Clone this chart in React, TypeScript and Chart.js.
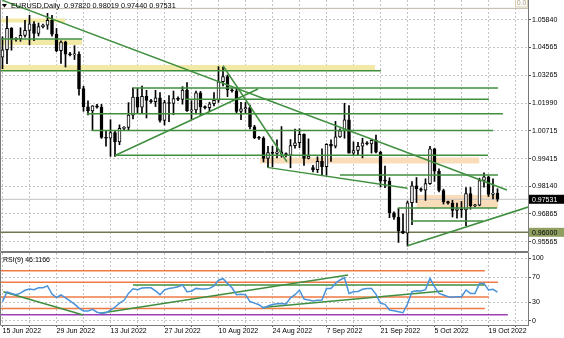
import React, { useEffect, useRef } from 'react';
import { Chart, registerables } from 'chart.js';
Chart.register(...registerables);

const FONT = "'Liberation Sans', Arial, sans-serif";

// ---- data ----
const dateLabels = ['15 Jun 2022', '29 Jun 2022', '13 Jul 2022', '27 Jul 2022', '10 Aug 2022', '24 Aug 2022', '7 Sep 2022', '21 Sep 2022', '5 Oct 2022', '19 Oct 2022'];
const priceTicks = [1.0584, 1.04565, 1.03265, 1.0199, 1.00715, 0.99415, 0.9814, 0.96865, 0.95565];
const rsiTicks = [100, 70, 30, 0];

const opens = [1.0412, 1.0446, 1.0545, 1.0494, 1.0498, 1.0513, 1.0536, 1.0566, 1.0522, 1.0553, 1.0560, 1.0583, 1.0518, 1.0442, 1.0482, 1.0426, 1.0422, 1.0425, 1.0266, 1.0182, 1.0163, 1.0186, 1.0180, 1.0040, 1.0036, 1.0062, 1.0019, 1.0082, 1.0086, 1.0143, 1.0227, 1.0180, 1.0230, 1.0211, 1.0205, 1.0223, 1.0119, 1.0201, 1.0197, 1.0220, 1.0216, 1.0259, 1.0163, 1.0167, 1.0247, 1.0181, 1.0178, 1.0196, 1.0212, 1.0298, 1.0322, 1.0260, 1.0256, 1.0160, 1.0172, 1.0178, 1.0089, 1.0039, 1.0036, 0.9942, 0.9969, 0.9966, 0.9973, 0.9965, 0.9958, 1.0002, 1.0015, 1.0054, 0.9943, 0.9900, 0.9890, 0.9929, 0.9904, 1.0008, 0.9999, 1.0042, 1.0070, 1.0121, 0.9967, 0.9979, 0.9999, 1.0015, 1.0010, 1.0026, 0.9971, 0.9837, 0.9837, 0.9690, 0.9670, 0.9606, 0.9596, 0.9737, 0.9815, 0.9802, 0.9795, 0.9826, 0.9987, 0.9883, 0.9794, 0.9742, 0.9735, 0.9701, 0.9708, 0.9704, 0.9780, 0.9723, 0.9726, 0.9840, 0.9857, 0.9776, 0.9782];
const highs = [1.0506, 1.0601, 1.0549, 1.0503, 1.0548, 1.0583, 1.0606, 1.0577, 1.0570, 1.0565, 1.0615, 1.0606, 1.0545, 1.0487, 1.0486, 1.0434, 1.0465, 1.0436, 1.0277, 1.0209, 1.0187, 1.0193, 1.0193, 1.0072, 1.0122, 1.0068, 1.0098, 1.0090, 1.0201, 1.0270, 1.0268, 1.0278, 1.0258, 1.0216, 1.0258, 1.0248, 1.0212, 1.0234, 1.0255, 1.0228, 1.0275, 1.0294, 1.0210, 1.0254, 1.0253, 1.0186, 1.0203, 1.0248, 1.0368, 1.0365, 1.0329, 1.0266, 1.0268, 1.0202, 1.0202, 1.0190, 1.0096, 1.0045, 1.0043, 0.9998, 0.9999, 1.0029, 1.0090, 0.9968, 1.0030, 1.0079, 1.0080, 1.0056, 1.0033, 0.9910, 0.9950, 0.9987, 1.0011, 1.0029, 1.0114, 1.0080, 1.0198, 1.0187, 1.0019, 1.0017, 1.0036, 1.0020, 1.0030, 1.0051, 0.9976, 0.9907, 0.9853, 0.9695, 0.9712, 0.9686, 0.9745, 0.9835, 0.9854, 0.9806, 0.9848, 0.9999, 0.9990, 0.9894, 0.9800, 0.9745, 0.9748, 0.9736, 0.9743, 0.9807, 0.9808, 0.9730, 0.9851, 0.9876, 0.9861, 0.9848, 0.98019];
const lows = [1.0358, 1.0382, 1.0444, 1.0486, 1.0485, 1.0505, 1.0469, 1.0488, 1.0510, 1.0547, 1.0541, 1.0509, 1.0437, 1.0383, 1.0366, 1.0418, 1.0401, 1.0236, 1.0161, 1.0144, 1.0072, 1.0175, 1.0035, 0.9999, 0.9952, 0.9952, 1.0006, 1.0075, 1.0073, 1.0125, 1.0154, 1.0153, 1.0130, 1.0199, 1.0183, 1.0110, 1.0097, 1.0113, 1.0145, 1.0210, 1.0194, 1.0160, 1.0123, 1.0149, 1.0141, 1.0172, 1.0159, 1.0186, 1.0202, 1.0279, 1.0229, 1.0250, 1.0150, 1.0122, 1.0150, 1.0079, 1.0034, 1.0030, 0.9926, 0.9901, 0.9903, 0.9945, 0.9948, 0.9950, 0.9899, 0.9990, 0.9992, 0.9910, 0.9940, 0.9880, 0.9877, 0.9864, 0.9864, 0.9929, 0.9991, 1.0040, 1.0036, 0.9967, 0.9955, 0.9956, 0.9945, 1.0005, 0.9967, 0.9968, 0.9810, 0.9807, 0.9668, 0.9660, 0.9553, 0.9594, 0.9536, 0.9636, 0.9738, 0.9790, 0.9748, 0.9822, 0.9836, 0.9787, 0.9731, 0.9730, 0.9671, 0.9665, 0.9669, 0.9631, 0.9707, 0.9718, 0.9723, 0.9809, 0.9766, 0.9755, 0.9744];
const closes = [1.0446, 1.0545, 1.0494, 1.0498, 1.0513, 1.0536, 1.0566, 1.0522, 1.0553, 1.0560, 1.0583, 1.0518, 1.0442, 1.0482, 1.0426, 1.0422, 1.0425, 1.0266, 1.0182, 1.0163, 1.0186, 1.0180, 1.0040, 1.0036, 1.0062, 1.0019, 1.0082, 1.0086, 1.0143, 1.0227, 1.0180, 1.0230, 1.0211, 1.0205, 1.0223, 1.0119, 1.0201, 1.0197, 1.0220, 1.0216, 1.0259, 1.0163, 1.0167, 1.0247, 1.0181, 1.0178, 1.0196, 1.0212, 1.0298, 1.0322, 1.0260, 1.0256, 1.0160, 1.0172, 1.0178, 1.0089, 1.0039, 1.0036, 0.9942, 0.9969, 0.9966, 0.9973, 0.9965, 0.9958, 1.0002, 1.0015, 1.0054, 0.9943, 0.9953, 0.9890, 0.9929, 0.9904, 1.0008, 0.9999, 1.0042, 1.0070, 1.0121, 0.9967, 0.9979, 0.9999, 1.0015, 1.0010, 1.0026, 0.9971, 0.9837, 0.9837, 0.9690, 0.9670, 0.9606, 0.9596, 0.9737, 0.9815, 0.9802, 0.9795, 0.9826, 0.9987, 0.9883, 0.9794, 0.9742, 0.9735, 0.9701, 0.9708, 0.9704, 0.9780, 0.9723, 0.9726, 0.9840, 0.9857, 0.9776, 0.9782, 0.97531];
const rsiValues = [31, 46.5, 44, 42, 44.5, 49, 51, 50, 53, 53, 56, 43, 37.5, 41.5, 37, 32, 27, 20.5, 16, 16, 18.5, 14, 12.2, 13, 17.5, 22, 28.5, 33, 44, 51.5, 50, 52.5, 53, 53, 48, 42, 49.5, 52, 53, 54.5, 57.5, 46.7, 47.5, 52, 51, 51, 52, 56, 65, 67.5, 60, 53, 42, 42.6, 42, 31, 28.5, 26, 20.5, 24, 26.3, 27.5, 28, 27, 37, 42, 49, 35, 33.5, 32, 33, 33.5, 52, 52, 60, 65.4, 69, 44, 46.7, 47, 50.5, 52, 52, 42.6, 28.2, 26.6, 17.5, 16.4, 14.9, 13.2, 27, 46.7, 48.3, 48, 50, 68, 54.7, 44, 41.5, 38.8, 37.8, 38.5, 38.8, 49.4, 44, 44, 60, 60, 49.4, 50.5, 46.1166];

const headerText = 'EURUSD,Daily  0.97820 0.98019 0.97440 0.97531';
const lastPrice = 0.97531;
const levelPrice = 0.96;
const fibZeroPrice = 1.0638;

// drawn objects in (bar index, price)
const greenLines = [
  [0, 1.0675, 112.1, 0.9796],
  [49.0, 1.0372, 63.2, 0.9927],
  [25.0, 0.9956, 56.8, 1.0264],
  [58.8, 0.9901, 90.0, 0.9804],
  [90.0, 0.9538, 116.8, 0.9717],
  [-1, 1.0496, 17.7, 1.0496],
  [-1, 1.0349, 84.1, 1.0349],
  [29, 1.0269, 110.1, 1.0269],
  [40.6, 1.0217, 108.1, 1.0217],
  [18.7, 1.0149, 111.2, 1.0149],
  [19.8, 1.0072, 109, 1.0072],
  [25, 0.9957, 107.9, 0.9957],
  [75, 0.9866, 110.1, 0.9866],
  [87.9, 0.9713, 109.9, 0.9713],
  [90.8, 0.9653, 106.8, 0.9653],
];
const yellowZones = [
  [-1, 13.9, 1.0591, 1.0572],
  [-1, 17.7, 1.0491, 1.0468],
  [-1, 82.8, 1.0375, 1.0352],
];
const peachZones = [
  [57.2, 106, 0.9947, 0.9919],
  [92, 110.2, 0.9773, 0.9713],
];
const rsiOrangeLevels = [80, 61.8, 38.2, 20];
const rsiOrangeEnds = [107.2, 110.1, 108.1, 107.2];
const rsiPurpleLevel = 10;
const rsiPurpleEnd = 112.3;
const rsiGreenLines = [
  [0.2, 46.7, 17.96, 9.6],
  [21.7, 12.3, 76.8, 73.4],
  [29, 57.4, 107.2, 57.4],
  [57.7, 21.5, 97.9, 47.8],
];

// ---- layout ----
const X_MIN = -0.333;
const X_MAX = 116.78;
const P_MAX = 1.067669;
const P_MIN = 0.951341;
const R_MAX = 108.45;
const R_MIN = -6.38;

const GREEN = '#3f8f3f';
const GRID = '#c4c4c4';

function seg(pts: number[][], color: string, width: number, order: number, extra: any = {}) {
  return {
    type: 'line',
    data: pts.map(([x, y]) => ({ x, y })),
    borderColor: color,
    borderWidth: width,
    pointRadius: 0,
    fill: false,
    tension: 0,
    order,
    ...extra,
  };
}

function weekTicks(s: any) {
  const t = [];
  for (let v = 0; v <= 114; v += 6) t.push({ value: v });
  s.ticks = t;
}

function fitY(s: any) {
  s.width = 36;
  s.paddingTop = 0;
  s.paddingBottom = 0;
}

export default function App() {
  const mainRef = useRef<HTMLCanvasElement>(null);
  const rsiRef = useRef<HTMLCanvasElement>(null);

  useEffect(() => {
    document.body.style.margin = '0';
    const idx = closes.map((_, i) => i);

    const datasets: any[] = [];
    yellowZones.forEach(([a, b, top, bot]) => {
      datasets.push(seg([[a, top], [b, top]], 'rgba(0,0,0,0)', 0, 9, { fill: { value: bot }, backgroundColor: '#f3e9a6' }));
    });
    peachZones.forEach(([a, b, top, bot]) => {
      datasets.push(seg([[a, top], [b, top]], 'rgba(0,0,0,0)', 0, 9, { fill: { value: bot }, backgroundColor: '#f9dcb9' }));
    });
    datasets.push(seg([[X_MIN - 1, fibZeroPrice], [X_MAX + 1, fibZeroPrice]], '#bdb6a6', 1, 8));
    datasets.push(seg([[X_MIN - 1, lastPrice], [X_MAX + 1, lastPrice]], '#c0c0c0', 1, 8));
    datasets.push(seg([[X_MIN - 1, levelPrice], [X_MAX + 1, levelPrice]], '#6e7a50', 1.5, 8));
    datasets.push({
      type: 'bar',
      data: idx.map(i => ({ x: i, y: [lows[i], highs[i]] })),
      backgroundColor: '#000',
      barThickness: 1,
      grouped: false,
      order: 4,
    });
    datasets.push({
      type: 'bar',
      data: idx.map(i => ({ x: i, y: [opens[i], closes[i]] })),
      backgroundColor: idx.map(i => (closes[i] > opens[i] ? '#ffffff' : '#000000')),
      borderColor: '#000',
      borderWidth: 1,
      borderSkipped: false,
      barThickness: 3,
      minBarLength: 1,
      grouped: false,
      order: 3,
    });
    greenLines.forEach(([x1, y1, x2, y2]) => {
      datasets.push(seg([[x1, y1], [x2, y2]], GREEN, 1.5, 1));
    });

    const mainLabels = {
      id: 'mainLabels',
      afterDraw(chart: any) {
        const { ctx, scales } = chart;
        const y = scales.y;
        ctx.save();
        ctx.strokeStyle = '#7a7a7a';
        ctx.lineWidth = 1;
        ctx.beginPath();
        ctx.moveTo(0.5, 0); ctx.lineTo(0.5, 251.5); ctx.lineTo(528.5, 251.5); ctx.lineTo(528.5, 0);
        ctx.stroke();
        ctx.fillStyle = '#000';
        ctx.beginPath();
        ctx.moveTo(2, 4); ctx.lineTo(7, 4); ctx.lineTo(4.5, 7.5); ctx.closePath();
        ctx.fill();
        ctx.font = `7.3px ${FONT}`;
        ctx.textBaseline = 'alphabetic';
        ctx.textAlign = 'left';
        ctx.fillText(headerText, 11, 8);
        ctx.fillStyle = '#fff';
        ctx.fillRect(515.5, -1, 12, 8);
        ctx.strokeStyle = '#d8cdb0';
        ctx.strokeRect(515.5, -1, 12, 8);
        ctx.fillStyle = '#a89c7c';
        ctx.font = `7px ${FONT}`;
        ctx.textAlign = 'center';
        ctx.textBaseline = 'middle';
        ctx.fillText('0.0', 521.5, 3.5);
        const by = y.getPixelForValue(lastPrice);
        ctx.fillStyle = '#000';
        ctx.fillRect(529, by - 4.5, 35, 9);
        ctx.fillStyle = '#fff';
        ctx.textAlign = 'left';
        ctx.font = `7px ${FONT}`;
        ctx.fillText(lastPrice.toFixed(5), 532, by + 0.5);
        const ly = y.getPixelForValue(levelPrice);
        ctx.fillStyle = '#8f9f62';
        ctx.fillRect(529, ly - 4.5, 35, 9);
        ctx.fillStyle = '#000';
        ctx.fillText(levelPrice.toFixed(5), 532, ly + 0.5);
        ctx.restore();
      },
    };

    const main = new Chart(mainRef.current!, {
      type: 'bar',
      data: { datasets },
      options: {
        animation: false,
        responsive: false,
        maintainAspectRatio: false,
        events: [],
        layout: { padding: { left: 1, top: 0, right: 0, bottom: 0 } },
        plugins: { legend: { display: false }, tooltip: { enabled: false } },
        scales: {
          x: {
            type: 'linear',
            min: X_MIN,
            max: X_MAX,
            offset: false,
            afterBuildTicks: weekTicks,
            afterFit: (s: any) => { s.height = 1; s.paddingLeft = 0; s.paddingRight = 0; },
            ticks: { display: false },
            grid: { color: GRID, drawTicks: false, offset: false },
            border: { display: false, dash: [2, 2] },
          },
          y: {
            type: 'linear',
            position: 'right',
            min: P_MIN,
            max: P_MAX,
            beginAtZero: false,
            afterBuildTicks: (s: any) => { s.ticks = priceTicks.map(v => ({ value: v })); },
            afterFit: fitY,
            ticks: {
              callback: (v: any) => Number(v).toFixed(5),
              font: { family: FONT, size: 7 },
              color: '#000',
              padding: 1,
            },
            grid: { color: GRID, tickLength: 3, tickColor: '#555', drawTicks: true },
            border: { display: false, dash: [2, 2] },
          },
        },
      } as any,
      plugins: [mainLabels],
    });

    const rsiDatasets: any[] = [];
    rsiOrangeLevels.forEach((lv, k) => {
      rsiDatasets.push(seg([[X_MIN - 1, lv], [rsiOrangeEnds[k], lv]], '#ef7a44', 1.5, 5));
    });
    rsiDatasets.push(seg([[X_MIN - 1, rsiPurpleLevel], [rsiPurpleEnd, rsiPurpleLevel]], '#9b3fb5', 1.5, 5));
    rsiGreenLines.forEach(([x1, y1, x2, y2]) => {
      rsiDatasets.push(seg([[x1, y1], [x2, y2]], GREEN, 1.5, 3));
    });
    rsiDatasets.push(seg(idx.map(i => [i, rsiValues[i]]), '#4a92d9', 1.5, 1));

    const rsiLabels = {
      id: 'rsiLabels',
      afterDraw(chart: any) {
        const { ctx } = chart;
        ctx.save();
        ctx.strokeStyle = '#7a7a7a';
        ctx.lineWidth = 1;
        ctx.beginPath();
        ctx.moveTo(0.5, 73.5); ctx.lineTo(0.5, 0.5); ctx.lineTo(528.5, 0.5); ctx.lineTo(528.5, 73.5);
        ctx.stroke();
        ctx.fillStyle = '#000';
        ctx.font = `7px ${FONT}`;
        ctx.textBaseline = 'middle';
        ctx.textAlign = 'left';
        ctx.fillText('RSI(9) ' + rsiValues[rsiValues.length - 1].toFixed(4), 3, 8);
        ctx.restore();
      },
    };

    const rsi = new Chart(rsiRef.current!, {
      type: 'line',
      data: { datasets: rsiDatasets },
      options: {
        animation: false,
        responsive: false,
        maintainAspectRatio: false,
        events: [],
        layout: { padding: { left: 1, top: 1, right: 0, bottom: 0 } },
        plugins: { legend: { display: false }, tooltip: { enabled: false } },
        scales: {
          x: {
            type: 'linear',
            min: X_MIN,
            max: X_MAX,
            offset: false,
            afterBuildTicks: weekTicks,
            afterFit: (s: any) => { s.height = 13; s.paddingLeft = 0; s.paddingRight = 0; },
            ticks: {
              autoSkip: false,
              maxRotation: 0,
              minRotation: 0,
              align: 'start',
              padding: 0,
              font: { family: FONT, size: 7 },
              color: '#000',
              callback: (v: any) => (v % 12 === 0 ? dateLabels[v / 12] : ''),
            },
            grid: { color: GRID, tickLength: 2, tickColor: '#555' },
            border: { display: true, color: '#7a7a7a', dash: [2, 2] },
          },
          y: {
            type: 'linear',
            position: 'right',
            min: R_MIN,
            max: R_MAX,
            afterBuildTicks: (s: any) => { s.ticks = rsiTicks.map(v => ({ value: v })); },
            afterFit: fitY,
            ticks: { font: { family: FONT, size: 7 }, color: '#000', padding: 1, callback: (v: any) => String(v) },
            grid: { color: GRID, tickLength: 3, tickColor: '#555' },
            border: { display: false, dash: [2, 2] },
          },
        },
      } as any,
      plugins: [rsiLabels],
    });

    return () => {
      main.destroy();
      rsi.destroy();
    };
  }, []);

  return (
    <div style={{ position: 'absolute', left: 0, top: 0, width: 564, height: 338, background: '#fff' }}>
      <canvas ref={mainRef} width={564} height={252} style={{ position: 'absolute', left: 0, top: 0, width: 564, height: 252 }} />
      <canvas ref={rsiRef} width={564} height={86} style={{ position: 'absolute', left: 0, top: 252, width: 564, height: 86 }} />
    </div>
  );
}
